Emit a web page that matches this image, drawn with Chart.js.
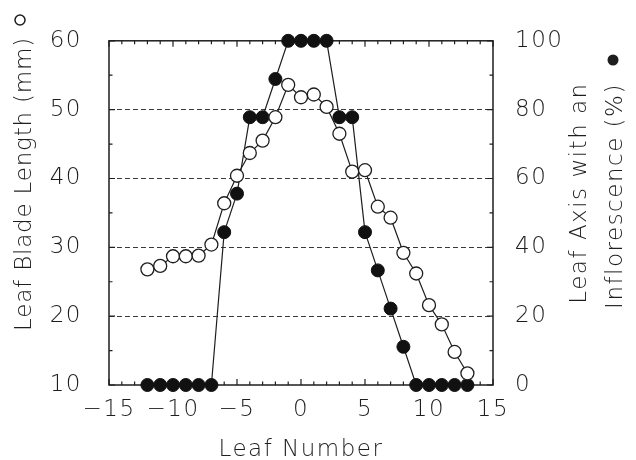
<!DOCTYPE html>
<html>
<head>
<meta charset="utf-8">
<script src="https://cdn.jsdelivr.net/npm/chart.js@4/dist/chart.umd.min.js"></script>
<style>
  html, body { margin: 0; padding: 0; background: #fff; }
  #wrap { width: 636px; height: 460px; }
</style>
</head>
<body>
<div id="wrap"><canvas id="leafChart" width="636" height="460"></canvas></div>
<script>
// Leaf position relative to the transition leaf
const leafNumbers = [-12, -11, -10, -9, -8, -7, -6, -5, -4, -3, -2, -1, 0,
                     1, 2, 3, 4, 5, 6, 7, 8, 9, 10, 11, 12, 13];
// Leaf blade length (mm), open circles, left axis
const bladeLength = [26.8, 27.3, 28.7, 28.7, 28.8, 30.4, 36.4, 40.4, 43.7, 45.5, 48.9, 53.6, 51.8,
                     52.2, 50.4, 46.5, 41.0, 41.2, 35.9, 34.3, 29.2, 26.2, 21.6, 18.8, 14.8, 11.7];
// Leaf axils with an inflorescence (%), filled circles, right axis
const inflorescencePct = [0, 0, 0, 0, 0, 0, 44.4, 55.6, 77.8, 77.8, 88.9, 100, 100,
                          100, 100, 77.8, 77.8, 44.4, 33.3, 22.2, 11.1, 0, 0, 0, 0, 0];

const xTicks = [-15, -10, -5, 0, 5, 10, 15];
const lengthTicks = [10, 20, 30, 40, 50, 60];
const pctTicks = [0, 20, 40, 60, 80, 100];

const leftTitle = 'Leaf Blade Length (mm)';
const rightTitle = ['Leaf Axis with an', 'Inflorescence (%)'];
const bottomTitle = 'Leaf Number';

const INK = '#1e1e1e';
const FONT = "'DejaVu Sans', sans-serif";

Chart.defaults.font.family = FONT;
Chart.defaults.font.size = 23;
Chart.defaults.font.weight = 200;
Chart.defaults.color = INK;

// wider letter spacing, like the old plotting font
const spacingPlugin = {
  id: 'spacing',
  beforeDraw(chart) {
    chart.ctx.letterSpacing = '1.5px';
  }
};

// frame with inward major/minor ticks on all four sides
const framePlugin = {
  id: 'frame',
  beforeDatasetsDraw(chart) {
    const { ctx, chartArea: a, scales } = chart;
    ctx.save();
    ctx.strokeStyle = INK;
    ctx.lineWidth = 1.5;
    ctx.strokeRect(a.left, a.top, a.right - a.left, a.bottom - a.top);
    ctx.lineWidth = 1.2;
    ctx.beginPath();
    for (let v = scales.x.min; v <= scales.x.max; v++) {
      const px = scales.x.getPixelForValue(v);
      const len = v % 5 === 0 ? 6 : 3.5;
      ctx.moveTo(px, a.bottom); ctx.lineTo(px, a.bottom - len);
      ctx.moveTo(px, a.top); ctx.lineTo(px, a.top + len);
    }
    for (let v = scales.y.min; v <= scales.y.max; v += 5) {
      const py = scales.y.getPixelForValue(v);
      const len = v % 10 === 0 ? 6 : 3.5;
      ctx.moveTo(a.left, py); ctx.lineTo(a.left + len, py);
    }
    for (let v = scales.y1.min; v <= scales.y1.max; v += 10) {
      const py = scales.y1.getPixelForValue(v);
      const len = v % 20 === 0 ? 6 : 3.5;
      ctx.moveTo(a.right, py); ctx.lineTo(a.right - len, py);
    }
    ctx.stroke();
    ctx.restore();
  }
};

// axis titles, both vertical ones read bottom to top, with their symbols
const titlePlugin = {
  id: 'titles',
  afterDraw(chart) {
    const { ctx, chartArea: a } = chart;
    ctx.save();
    ctx.fillStyle = INK;
    ctx.font = `200 23px ${FONT}`;
    ctx.textAlign = 'center';
    ctx.textBaseline = 'alphabetic';

    ctx.fillText(bottomTitle, (a.left + a.right) / 2, 456);

    ctx.letterSpacing = '0.8px';
    const vText = (txt, x, y) => {
      ctx.save();
      ctx.translate(x, y);
      ctx.rotate(-Math.PI / 2);
      ctx.fillText(txt, 0, 0);
      ctx.restore();
    };
    vText(leftTitle, 31, 184);
    ctx.letterSpacing = '1.5px';
    vText(rightTitle[0], 586, 193);
    vText(rightTitle[1], 622, 196);

    // series symbols
    ctx.lineWidth = 1.5;
    ctx.strokeStyle = INK;
    ctx.beginPath();
    ctx.arc(20, 20, 5, 0, Math.PI * 2);
    ctx.stroke();
    ctx.beginPath();
    ctx.arc(613, 60, 5.5, 0, Math.PI * 2);
    ctx.fill();
    ctx.restore();
  }
};

const minus = v => String(v).replace('-', '\u2212');

new Chart(document.getElementById('leafChart'), {
  type: 'scatter',
  data: {
    datasets: [
      {
        label: 'Leaf blade length',
        data: leafNumbers.map((x, i) => ({ x, y: bladeLength[i] })),
        yAxisID: 'y',
        showLine: true,
        borderColor: INK,
        borderWidth: 1.2,
        pointRadius: 6.5,
        pointBackgroundColor: '#fff',
        pointBorderColor: INK,
        pointBorderWidth: 1.3,
        clip: false,
        order: 1
      },
      {
        label: 'Leaf axils with an inflorescence',
        data: leafNumbers.map((x, i) => ({ x, y: inflorescencePct[i] })),
        yAxisID: 'y1',
        showLine: true,
        borderColor: INK,
        borderWidth: 1.2,
        pointRadius: 6.5,
        pointBackgroundColor: '#111',
        pointBorderColor: '#111',
        pointBorderWidth: 1,
        clip: false,
        order: 2
      }
    ]
  },
  options: {
    responsive: false,
    animation: false,
    layout: { padding: { top: 22, left: 0, right: 0, bottom: 0 } },
    scales: {
      x: {
        type: 'linear',
        min: -15,
        max: 15,
        afterFit(s) { s.height = 75; },
        afterBuildTicks(s) { s.ticks = xTicks.map(v => ({ value: v })); },
        border: { display: false },
        grid: { display: false, drawTicks: false },
        ticks: { padding: 11, maxRotation: 0, callback: v => minus(v) }
      },
      y: {
        position: 'left',
        min: 10,
        max: 60,
        afterFit(s) { s.width = 109; },
        afterBuildTicks(s) { s.ticks = lengthTicks.map(v => ({ value: v })); },
        border: { display: false, dash: [5, 3] },
        grid: {
          drawTicks: false,
          color: c => (c.tick && (c.tick.value === 10 || c.tick.value === 60)) ? 'rgba(0,0,0,0)' : '#3a3a3a',
          lineWidth: 1
        },
        ticks: { padding: 27 }
      },
      y1: {
        position: 'right',
        min: 0,
        max: 100,
        afterFit(s) { s.width = 143; },
        afterBuildTicks(s) { s.ticks = pctTicks.map(v => ({ value: v })); },
        border: { display: false },
        grid: { display: false, drawTicks: false },
        ticks: { padding: 22 }
      }
    },
    plugins: {
      legend: { display: false },
      tooltip: { enabled: false }
    }
  },
  plugins: [spacingPlugin, framePlugin, titlePlugin]
});
</script>
</body>
</html>
